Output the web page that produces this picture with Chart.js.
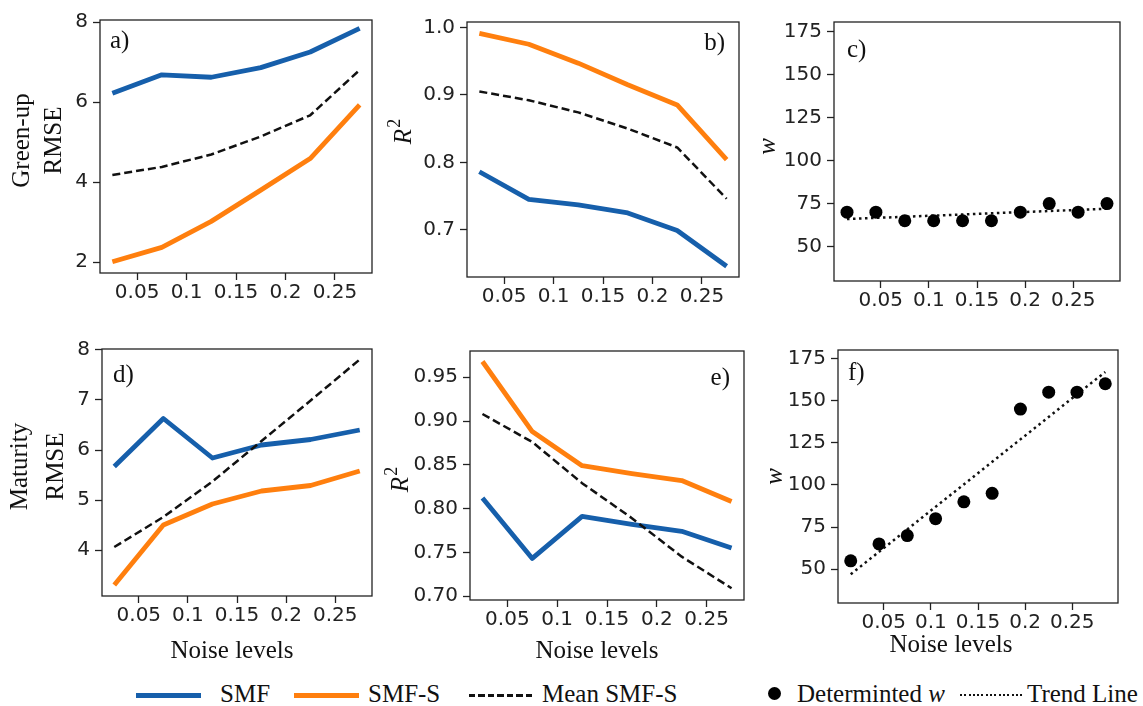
<!DOCTYPE html>
<html>
<head>
<meta charset="utf-8">
<script src="https://cdn.jsdelivr.net/npm/chart.js@4.4.0/dist/chart.umd.min.js"></script>
<style>
  body { margin: 0; background: #fff; width: 1143px; height: 706px; position: relative; overflow: hidden; }
  canvas { position: absolute; }
  .lg { position: absolute; top: 682px; font: 25px/24px "Liberation Serif", serif; color: #111; white-space: nowrap; }
  .sw { position: absolute; }
</style>
</head>
<body>

<!-- figure legend (shared by all panels) -->
<div class="sw" style="left:136px;top:693px;width:65px;height:4.5px;background:#165fab"></div>
<div class="lg" style="left:220px">SMF</div>
<div class="sw" style="left:294px;top:693px;width:65px;height:4.5px;background:#ff7f0e"></div>
<div class="lg" style="left:368px">SMF-S</div>
<div class="sw" style="left:469px;top:694px;width:64px;height:2.5px;background:repeating-linear-gradient(to right,#111 0 6.5px,transparent 6.5px 9.5px)"></div>
<div class="lg" style="left:542px">Mean SMF-S</div>
<div class="sw" style="left:768px;top:687px;width:13px;height:13px;border-radius:50%;background:#000"></div>
<div class="lg" style="left:797px">Determinted <i>w</i></div>
<div class="sw" style="left:960px;top:694px;width:65px;height:2px;background:repeating-linear-gradient(to right,#111 0 2px,transparent 2px 4.3px)"></div>
<div class="lg" style="left:1027px">Trend Line</div>

<script>
// ── data ─────────────────────────────────────────────────────────
const noiseX = [0.025, 0.075, 0.125, 0.175, 0.225, 0.275];
const noiseW = [0.015, 0.045, 0.075, 0.105, 0.135, 0.165, 0.195, 0.225, 0.255, 0.285];
const trendX = [0.015, 0.285];

// Green-up
const greenRmseSMF  = [6.22, 6.68, 6.62, 6.86, 7.25, 7.84];
const greenRmseSMFS = [2.01, 2.37, 3.02, 3.80, 4.59, 5.93];
const greenRmseMean = [4.18, 4.38, 4.69, 5.14, 5.67, 6.80];
const greenR2SMF    = [0.786, 0.745, 0.737, 0.725, 0.699, 0.646];
const greenR2SMFS   = [0.991, 0.975, 0.947, 0.915, 0.885, 0.804];
const greenR2Mean   = [0.905, 0.892, 0.874, 0.850, 0.822, 0.746];
const greenW        = [70, 70, 65, 65, 65, 65, 70, 75, 70, 75];
const greenWTrend   = [66, 72];

// Maturity
const matRmseSMF  = [5.67, 6.63, 5.84, 6.10, 6.21, 6.40];
const matRmseSMFS = [3.30, 4.50, 4.92, 5.18, 5.29, 5.58];
const matRmseMean = [4.06, 4.66, 5.37, 6.18, 6.99, 7.81];
const matR2SMF    = [0.812, 0.743, 0.791, 0.782, 0.774, 0.755];
const matR2SMFS   = [0.968, 0.888, 0.849, 0.840, 0.832, 0.808];
const matR2Mean   = [0.908, 0.876, 0.829, 0.789, 0.745, 0.709];
const matW        = [55, 65, 70, 80, 90, 95, 145, 155, 155, 160];
const matWTrend   = [47, 167];

// tick labels
const xTicks     = [0.05, 0.1, 0.15, 0.2, 0.25];
const rmseTicksA = [2, 4, 6, 8];
const rmseTicksD = [4, 5, 6, 7, 8];
const r2TicksB   = [0.7, 0.8, 0.9, 1.0];
const r2TicksE   = [0.70, 0.75, 0.80, 0.85, 0.90, 0.95];
const wTicks     = [50, 75, 100, 125, 150, 175];

const COL = { smf: '#165fab', smfs: '#ff7f0e', ink: '#111', axis: '#222' };
const SERIF = '"Liberation Serif", "Times New Roman", serif';

// ── plugins ──────────────────────────────────────────────────────
// frame round the plot area (matplotlib spines)
const frame = {
  id: 'frame',
  afterDatasetsDraw(chart) {
    const { ctx, chartArea: a } = chart;
    ctx.save();
    ctx.strokeStyle = COL.axis;
    ctx.lineWidth = 1.3;
    ctx.strokeRect(a.left, a.top, a.right - a.left, a.bottom - a.top);
    ctx.restore();
  },
};

// panel letter, y title (rotated) and x title
const panelText = {
  id: 'panelText',
  afterDraw(chart, args, o) {
    const { ctx, chartArea: a } = chart;
    ctx.save();
    ctx.fillStyle = COL.ink;
    ctx.textBaseline = 'middle';

    ctx.font = '25px ' + SERIF;
    ctx.textAlign = o.letterRight ? 'right' : 'left';
    ctx.fillText(o.letter, o.letterRight ? a.right - o.letterDx : a.left + o.letterDx, a.top + o.letterDy);

    const cy = (a.top + a.bottom) / 2 + o.yDy;
    o.yLines.forEach(l => {
      ctx.save();
      ctx.translate(a.left + l.dx, cy);
      ctx.rotate(-Math.PI / 2);
      if (l.sup) {
        ctx.font = 'italic 25px ' + SERIF;
        const wMain = ctx.measureText(l.t).width;
        ctx.font = '18px ' + SERIF;
        const wSup = ctx.measureText(l.sup).width;
        const x0 = -(wMain + wSup + 1) / 2;
        ctx.textAlign = 'left';
        ctx.font = 'italic 25px ' + SERIF;
        ctx.fillText(l.t, x0, 0);
        ctx.font = '18px ' + SERIF;
        ctx.fillText(l.sup, x0 + wMain + 1, -9);
      } else {
        ctx.textAlign = 'center';
        ctx.font = (l.italic ? 'italic ' : '') + '25px ' + SERIF;
        ctx.fillText(l.t, 0, 0);
      }
      ctx.restore();
    });

    if (o.xTitle) {
      ctx.font = '25px ' + SERIF;
      ctx.textAlign = 'center';
      ctx.fillText(o.xTitle, (a.left + a.right) / 2 + o.xDx, a.bottom + o.xDy);
    }
    ctx.restore();
  },
};

// ── builders ─────────────────────────────────────────────────────
const pts = (xs, ys) => xs.map((x, i) => ({ x, y: ys[i] }));

function lineSets(smf, smfs, mean) {
  return [
    { data: pts(noiseX, mean), borderColor: COL.ink, borderWidth: 2.5, borderDash: [8, 4], order: 0 },
    { data: pts(noiseX, smfs), borderColor: COL.smfs, borderWidth: 4.8, order: 1 },
    { data: pts(noiseX, smf),  borderColor: COL.smf,  borderWidth: 4.8, order: 2 },
  ].map(d => ({ ...d, showLine: true, pointRadius: 0, tension: 0, borderJoinStyle: 'round' }));
}

function wSets(w, trend) {
  return [
    { data: pts(noiseW, w), pointRadius: 6.5, pointBackgroundColor: '#000', pointBorderWidth: 0, showLine: false, order: 0 },
    { data: pts(trendX, trend), showLine: true, pointRadius: 0, borderColor: COL.ink, borderWidth: 2.5, borderDash: [2.5, 3.5], order: 1 },
  ];
}

const PAD_L = 100, PAD_T = 10, PAD_R = 12;

function buildPanel(p) {
  const { L, T, R, B } = p.box;
  const padB = p.xTitle ? 75 : 40;
  const cv = document.createElement('canvas');
  cv.width = R - L + PAD_L + PAD_R;
  cv.height = B - T + PAD_T + padB;
  cv.style.left = (L - PAD_L) + 'px';
  cv.style.top = (T - PAD_T) + 'px';
  document.body.appendChild(cv);

  const tickFont = { family: '"DejaVu Sans", sans-serif', size: 20 };
  const grid = { drawOnChartArea: false, drawTicks: true, tickLength: 7, tickWidth: 1.3, tickColor: COL.axis, color: COL.axis };

  return new Chart(cv, {
    type: 'scatter',
    data: { datasets: p.datasets },
    options: {
      responsive: false, animation: false, devicePixelRatio: 1,
      layout: { padding: { top: PAD_T, right: PAD_R, left: 0, bottom: 0 } },
      plugins: {
        legend: { display: false }, tooltip: { enabled: false },
        panelText: { ...p.text, xTitle: p.xTitle, xDx: p.xDx, xDy: p.xDy },
      },
      scales: {
        x: {
          type: 'linear', min: p.xMin, max: p.xMax,
          afterBuildTicks: s => { s.ticks = xTicks.map(v => ({ value: v })); },
          afterFit: s => { s.height = padB; },
          ticks: { font: tickFont, color: COL.axis, padding: 1, maxRotation: 0, autoSkip: false, callback: v => String(v) },
          grid, border: { display: false },
        },
        y: {
          min: p.yMin, max: p.yMax,
          afterBuildTicks: s => { s.ticks = p.yTicks.map(v => ({ value: v })); },
          afterFit: s => { s.width = PAD_L; },
          ticks: { font: tickFont, color: COL.axis, padding: 5, autoSkip: false, callback: p.yFmt },
          grid, border: { display: false },
        },
      },
    },
    plugins: [frame, panelText],
  });
}

const panels = [
  { box: { L: 100, T: 13, R: 372, B: 273 }, xMin: 0.0125, xMax: 0.2875, yMin: 1.73, yMax: 8.05,
    yTicks: rmseTicksA, yFmt: v => String(v),
    datasets: lineSets(greenRmseSMF, greenRmseSMFS, greenRmseMean),
    text: { letter: 'a)', letterDx: 10, letterDy: 21, yDy: -6, yLines: [{ t: 'Green-up', dx: -78 }, { t: 'RMSE', dx: -46 }] } },
  { box: { L: 467, T: 15, R: 739, B: 277 }, xMin: 0.0125, xMax: 0.2875, yMin: 0.63, yMax: 1.008,
    yTicks: r2TicksB, yFmt: v => v.toFixed(1),
    datasets: lineSets(greenR2SMF, greenR2SMFS, greenR2Mean),
    text: { letter: 'b)', letterRight: true, letterDx: 14, letterDy: 21, yDy: -18, yLines: [{ t: 'R', sup: '2', dx: -63 }] } },
  { box: { L: 834, T: 15, R: 1120, B: 281 }, xMin: 0.0015, xMax: 0.2985, yMin: 30, yMax: 180.5,
    yTicks: wTicks, yFmt: v => String(v),
    datasets: wSets(greenW, greenWTrend),
    text: { letter: 'c)', letterDx: 13, letterDy: 28, yDy: -5, yLines: [{ t: 'w', italic: true, dx: -66 }] } },
  { box: { L: 102, T: 342, R: 372, B: 596 }, xMin: 0.0125, xMax: 0.2875, yMin: 3.08, yMax: 8.02,
    yTicks: rmseTicksD, yFmt: v => String(v),
    datasets: lineSets(matRmseSMF, matRmseSMFS, matRmseMean),
    xTitle: 'Noise levels', xDx: -5, xDy: 55,
    text: { letter: 'd)', letterDx: 11, letterDy: 26, yDy: -6, yLines: [{ t: 'Maturity', dx: -82 }, { t: 'RMSE', dx: -46 }] } },
  { box: { L: 470, T: 344, R: 744, B: 600 }, xMin: 0.0125, xMax: 0.2875, yMin: 0.6955, yMax: 0.98,
    yTicks: r2TicksE, yFmt: v => v.toFixed(2),
    datasets: lineSets(matR2SMF, matR2SMFS, matR2Mean),
    xTitle: 'Noise levels', xDx: -10, xDy: 51,
    text: { letter: 'e)', letterRight: true, letterDx: 14, letterDy: 27, yDy: 4, yLines: [{ t: 'R', sup: '2', dx: -69 }] } },
  { box: { L: 838, T: 343, R: 1118, B: 603 }, xMin: 0.0015, xMax: 0.2985, yMin: 30, yMax: 180,
    yTicks: wTicks, yFmt: v => String(v),
    datasets: wSets(matW, matWTrend),
    xTitle: 'Noise levels', xDx: -27, xDy: 42,
    text: { letter: 'f)', letterDx: 10, letterDy: 23, yDy: 0, yLines: [{ t: 'w', italic: true, dx: -63 }] } },
];

panels.forEach(buildPanel);
</script>
</body>
</html>
